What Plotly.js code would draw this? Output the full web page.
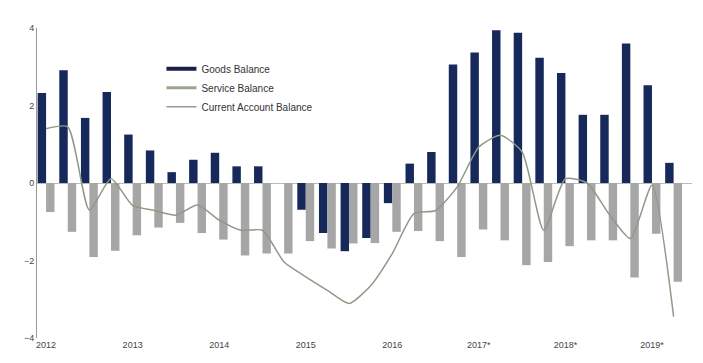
<!DOCTYPE html>
<html><head><meta charset="utf-8">
<script src="https://cdn.plot.ly/plotly-3.0.1.min.js"></script>
<style>html,body{margin:0;padding:0;background:#fff}#c{width:703px;height:363px}</style>
</head><body><div id="c"></div>
<script>
var quarters = [];
var years = [2012,2013,2014,2015,2016,2017,2018,2019];
years.forEach(function(y){ for (var q=1;q<=4;q++) quarters.push(y+"Q"+q); });
quarters = quarters.slice(0, 30);
var tickYearLabels = ["2012","2013","2014","2015","2016","2017*","2018*","2019*"];
var goodsBalance = [2.32,2.91,1.68,2.35,1.25,0.84,0.28,0.60,0.78,0.43,0.43,0,
  -0.69,-1.29,-1.76,-1.42,-0.52,0.50,0.80,3.06,3.37,3.94,3.88,3.23,2.84,1.76,1.76,3.60,2.52,0.52];
var serviceBalance = [-0.75,-1.26,-1.91,-1.75,-1.35,-1.15,-1.03,-1.29,-1.46,-1.87,-1.82,-1.82,
  -1.50,-1.69,-1.56,-1.55,-1.26,-1.24,-1.50,-1.91,-1.20,-1.48,-2.12,-2.04,-1.63,-1.48,-1.48,-2.44,-1.31,-2.55];
var currentAccount = [1.40,1.45,-0.70,0.11,-0.58,-0.71,-0.83,-0.57,-0.96,-1.22,-1.22,-2.04,
  -2.42,-2.77,-3.11,-2.65,-1.82,-0.79,-0.71,-0.10,0.93,1.23,0.80,-1.22,0.11,0.00,-0.79,-1.43,-0.06,-3.45];

var xIdx = quarters.map(function(_,i){return i;});
var tickVals = tickYearLabels.map(function(_,i){return i*4;});
var navy = '#17285a', grey = '#a6a6a6', lineCol = '#8e9a86';

var traces = [
  {type:'bar', name:'Goods Balance', x:xIdx, y:goodsBalance, marker:{color:navy}, showlegend:false},
  {type:'bar', name:'Service Balance', x:xIdx, y:serviceBalance, marker:{color:grey}, showlegend:false},
  {type:'scatter', mode:'lines', name:'Current Account Balance', x:xIdx, y:currentAccount,
   line:{color:lineCol, width:1.5, shape:'spline', smoothing:0.6}, showlegend:false},
  {type:'scatter', mode:'lines', name:'Goods Balance', x:[null], y:[null], line:{color:'#1a1f4a', width:4}},
  {type:'scatter', mode:'lines', name:'Service Balance', x:[null], y:[null], line:{color:'#9aa58e', width:3}},
  {type:'scatter', mode:'lines', name:'Current Account Balance', x:[null], y:[null], line:{color:'#666', width:1}}
];
var layout = {
  width:703, height:363,
  margin:{l:37, r:11, t:28, b:25},
  paper_bgcolor:'#fff', plot_bgcolor:'#fff',
  barmode:'group', bargap:0.22, bargroupgap:0,
  showlegend:true,
  legend:{x:0.19, y:0.915, xanchor:'left', yanchor:'top', bgcolor:'rgba(0,0,0,0)',
    font:{family:'Liberation Sans, Arial', size:10, color:'#333'}, tracegroupgap:0, itemwidth:30},
  xaxis:{range:[-0.42,29.85], tickmode:'array', tickvals:tickVals, ticktext:tickYearLabels,
    showgrid:false, zeroline:false, showline:false, ticks:'',
    tickfont:{family:'Liberation Sans, Arial', size:9, color:'#444'}},
  yaxis:{range:[-4,4], tickvals:[-4,-2,0,2,4], showgrid:false, zeroline:true,
    zerolinecolor:'#bbb', zerolinewidth:1, showline:true, linecolor:'#999', linewidth:1,
    ticks:'', tickfont:{family:'Liberation Sans, Arial', size:9, color:'#444'}}
};
Plotly.newPlot('c', traces, layout, {displayModeBar:false, staticPlot:true});
</script></body></html>
